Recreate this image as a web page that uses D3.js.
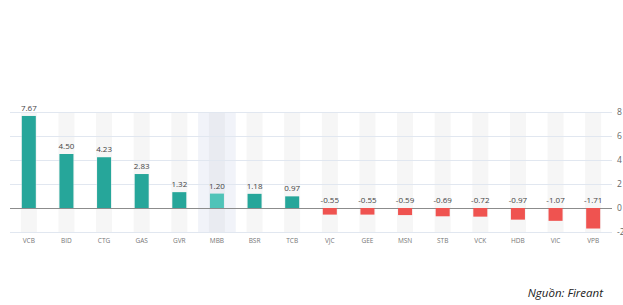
<!DOCTYPE html>
<html>
<head>
<meta charset="utf-8">
<script src="https://cdn.jsdelivr.net/npm/d3@7"></script>
<style>
  body { margin: 0; background: #fff; }
  text { font-family: "Open Sans", "Noto Sans", sans-serif; }
</style>
</head>
<body>
<div id="chart"></div>
<script>
const categories = ["VCB", "BID", "CTG", "GAS", "GVR", "MBB", "BSR", "TCB", "VJC", "GEE", "MSN", "STB", "VCK", "HDB", "VIC", "VPB"];
const values = [7.67, 4.50, 4.23, 2.83, 1.32, 1.20, 1.18, 0.97, -0.55, -0.55, -0.59, -0.69, -0.72, -0.97, -1.07, -1.71];
const yTicks = [-2, 0, 2, 4, 6, 8];
const highlighted = "MBB";

const data = categories.map((c, i) => ({ name: c, value: values[i] }));

const svgWidth = 623;
const svgHeight = 305;

const svg = d3.select("#chart")
  .append("svg")
  .attr("width", svgWidth)
  .attr("height", svgHeight);

// scales
const xScale = d3.scaleBand()
  .domain(categories)
  .range([10, 612])
  .padding(0);

const yScale = d3.scaleLinear()
  .domain([-2, 8])
  .range([232, 112]);

const bw = xScale.bandwidth();

// hover highlight band
svg.append("rect")
  .attr("x", xScale(highlighted))
  .attr("y", yScale(8))
  .attr("width", bw)
  .attr("height", yScale(-2) - yScale(8))
  .attr("fill", "#f1f3f9");

// column stripes
svg.selectAll(".stripe")
  .data(data)
  .enter()
  .append("rect")
  .attr("class", "stripe")
  .attr("x", d => xScale(d.name) + bw / 2 - 8)
  .attr("y", yScale(8))
  .attr("width", 16)
  .attr("height", yScale(-2) - yScale(8))
  .attr("fill", d => d.name === highlighted ? "#e9ebf1" : "#f6f6f6");

// grid
const yGrid = d3.axisRight(yScale)
  .tickValues(yTicks)
  .tickSize(602)
  .tickFormat(d => d);

const gridG = svg.append("g")
  .attr("transform", "translate(10,0)")
  .call(yGrid);

gridG.select(".domain").remove();
gridG.selectAll(".tick line")
  .attr("stroke", d => d === 0 ? "#8c8c8c" : "#e1e7f0")
  .attr("stroke-width", d => d === 0 ? 1.2 : 1);
gridG.selectAll(".tick text")
  .attr("x", 607)
  .attr("fill", "#666")
  .attr("font-size", 8.5);

// bars
svg.selectAll(".bar")
  .data(data)
  .enter()
  .append("rect")
  .attr("class", "bar")
  .attr("x", d => xScale(d.name) + bw / 2 - 7)
  .attr("width", 14)
  .attr("y", d => yScale(Math.max(0, d.value)))
  .attr("height", d => Math.abs(yScale(d.value) - yScale(0)))
  .attr("fill", d => d.value < 0 ? "#ef5350" : (d.name === highlighted ? "#4fc3b8" : "#26a69a"));

// value labels
svg.selectAll(".val")
  .data(data)
  .enter()
  .append("text")
  .attr("class", "val")
  .attr("x", d => xScale(d.name) + bw / 2)
  .attr("y", d => yScale(Math.max(0, d.value)) - 5)
  .attr("text-anchor", "middle")
  .attr("font-size", 8)
  .attr("fill", "#444")
  .text(d => d.value.toFixed(2));

// category labels
const xAxis = d3.axisBottom(xScale).tickSize(0).tickPadding(0);
const xG = svg.append("g")
  .attr("transform", "translate(0,238)")
  .call(xAxis);
xG.select(".domain").remove();
xG.selectAll(".tick text")
  .attr("font-size", 6.5)
  .attr("fill", "#777")
  .attr("font-family", "\"Open Sans\", sans-serif");

// source
svg.append("text")
  .attr("x", 603)
  .attr("y", 297)
  .attr("text-anchor", "end")
  .attr("font-size", 11.5)
  .attr("font-style", "italic")
  .attr("fill", "#222")
  .text("Nguồn: Fireant");
</script>
</body>
</html>
